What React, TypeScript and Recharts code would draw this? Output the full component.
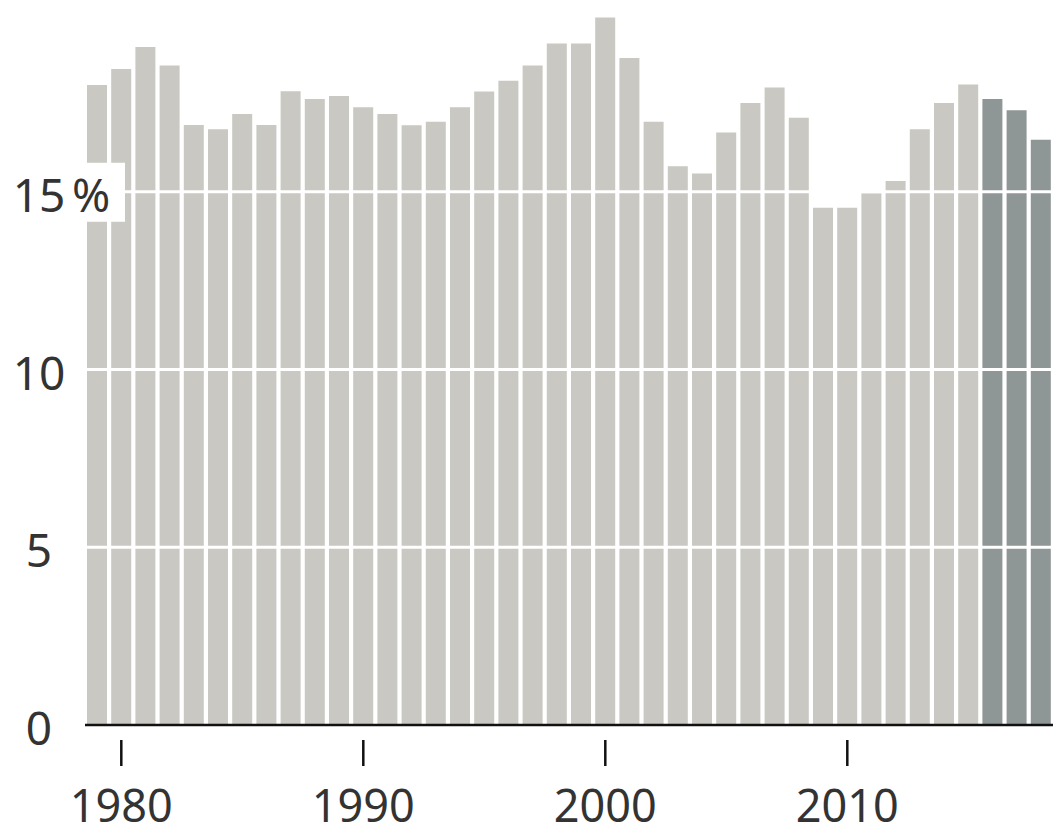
import React from 'react';
import { BarChart, Bar, XAxis, YAxis, Cell, ReferenceLine } from 'recharts';

const years = [
  1979, 1980, 1981, 1982, 1983, 1984, 1985, 1986, 1987, 1988,
  1989, 1990, 1991, 1992, 1993, 1994, 1995, 1996, 1997, 1998,
  1999, 2000, 2001, 2002, 2003, 2004, 2005, 2006, 2007, 2008,
  2009, 2010, 2011, 2012, 2013, 2014, 2015, 2016, 2017, 2018,
];
const values = [
  18.0, 18.45, 19.07, 18.55, 16.88, 16.76, 17.19, 16.88, 17.83, 17.61,
  17.69, 17.38, 17.19, 16.87, 16.97, 17.38, 17.82, 18.12, 18.55, 19.17,
  19.17, 19.9, 18.76, 16.97, 15.72, 15.51, 16.67, 17.5, 17.93, 17.08,
  14.55, 14.55, 14.96, 15.3, 16.76, 17.5, 18.02, 17.61, 17.29, 16.46,
];
const projectedFrom = 2016;
const yTicks = [0, 5, 10, 15];
const xTickYears = [1980, 1990, 2000, 2010];

const data = years.map((year, i) => ({ year, value: values[i] }));

const FONT = '"Noto Sans", "Open Sans", sans-serif';
const TEXT = '#333333';

const YTick = (props: any) => {
  const { x, y, payload } = props;
  const v = payload.value;
  const cx = x - 46;
  if (v === 15) {
    return (
      <g>
        <rect x={x - 85} y={y - 29} width={125} height={59} fill="#ffffff" />
        <text x={cx} y={y + 20} textAnchor="middle" fontSize={46} fontFamily={FONT} fill={TEXT}>
          15
        </text>
        <text x={x - 13} y={y + 20} textAnchor="start" fontSize={46} fontFamily={FONT} fill={TEXT}>
          %
        </text>
      </g>
    );
  }
  return (
    <text x={cx} y={y + 20} textAnchor="middle" fontSize={46} fontFamily={FONT} fill={TEXT}>
      {v}
    </text>
  );
};

const XTick = (props: any) => {
  const { x, y, payload } = props;
  if (!xTickYears.includes(Number(payload.value))) return null;
  return (
    <g>
      <line x1={x} x2={x} y1={y + 15} y2={y + 41} stroke="#111111" strokeWidth={2.5} />
      <text x={x} y={y + 97} textAnchor="middle" fontSize={45} fontFamily={FONT} fill={TEXT}>
        {payload.value}
      </text>
    </g>
  );
};

export default function App() {
  return (
    <div style={{ position: 'absolute', left: 0, top: 0, width: 1053, height: 832, background: '#fff' }}>
      <BarChart
        width={1053}
        height={832}
        data={data}
        margin={{ top: 14, right: 0, bottom: 0, left: 0 }}
        barSize={20}
      >
        <XAxis
          dataKey="year"
          type="category"
          interval={0}
          height={107}
          tickSize={0}
          tickMargin={0}
          tickLine={false}
          axisLine={{ stroke: '#111111', strokeWidth: 2.5 }}
          tick={<XTick />}
        />
        <YAxis
          type="number"
          domain={[0, 20]}
          ticks={yTicks}
          width={85}
          tickSize={0}
          tickMargin={0}
          tickLine={false}
          axisLine={false}
          tick={<YTick />}
          allowDataOverflow
        />
        <Bar dataKey="value" isAnimationActive={false}>
          {data.map((d) => (
            <Cell key={d.year} fill={d.year >= projectedFrom ? '#8e9696' : '#c9c8c2'} />
          ))}
        </Bar>
        {[5, 10, 15].map((v) => (
          <ReferenceLine key={v} y={v} stroke="#ffffff" strokeWidth={3} />
        ))}
      </BarChart>
    </div>
  );
}
